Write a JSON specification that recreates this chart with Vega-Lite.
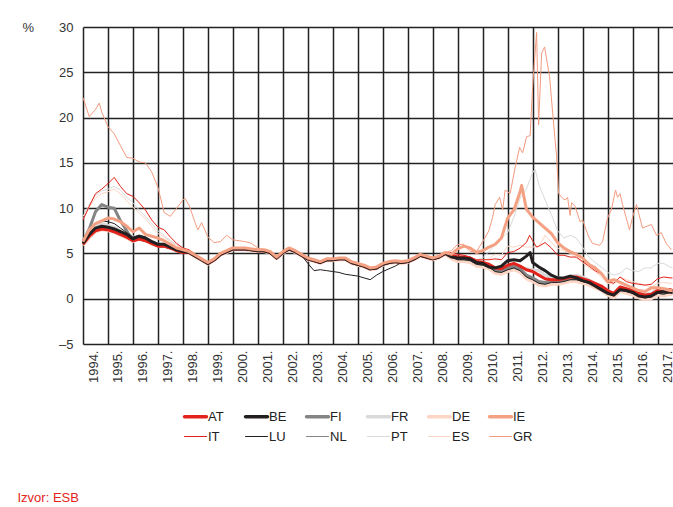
{
  "$schema": "https://vega.github.io/schema/vega-lite/v6.json",
  "width": 590,
  "height": 317,
  "autosize": {"type": "none"},
  "padding": {"left": 83, "top": 27, "right": 0, "bottom": 163},
  "background": "white",
  "config": {"view": {"stroke": null}, "font": "'Liberation Sans Narrow', 'Liberation Sans', sans-serif"},
  "data": {"values": [
    {"t":1994.0,"AT":6.0,"BE":6.1,"FI":6.3,"FR":6.2,"DE":5.9,"IE":6.3,"IT":8.7,"LU":6.2,"NL":5.9,"PT":9.1,"ES":8.8,"GR":22.2},
    {"t":1994.25,"AT":6.9,"BE":7.1,"FI":7.7,"FR":7.3,"DE":6.7,"IE":7.6,"IT":10.2,"LU":7.5,"NL":6.8,"PT":10.4,"ES":10.1,"GR":20.1},
    {"t":1994.5,"AT":7.5,"BE":7.8,"FI":9.6,"FR":8.0,"DE":7.4,"IE":8.3,"IT":11.6,"LU":8.3,"NL":7.5,"PT":11.4,"ES":11.1,"GR":20.9},
    {"t":1994.75,"AT":7.7,"BE":8.0,"FI":10.4,"FR":8.3,"DE":7.6,"IE":8.6,"IT":12.1,"LU":8.6,"NL":7.7,"PT":11.9,"ES":11.6,"GR":20.6},
    {"t":1995.0,"AT":7.6,"BE":7.9,"FI":10.1,"FR":8.1,"DE":7.5,"IE":8.9,"IT":12.7,"LU":8.5,"NL":7.6,"PT":12.1,"ES":11.8,"GR":19.0},
    {"t":1995.25,"AT":7.4,"BE":7.7,"FI":10.0,"FR":7.9,"DE":7.3,"IE":8.8,"IT":13.4,"LU":8.3,"NL":7.3,"PT":12.4,"ES":12.1,"GR":18.2},
    {"t":1995.5,"AT":7.1,"BE":7.4,"FI":8.6,"FR":7.5,"DE":7.0,"IE":8.5,"IT":12.4,"LU":7.8,"NL":7.0,"PT":12.0,"ES":11.6,"GR":16.9},
    {"t":1995.75,"AT":6.8,"BE":7.1,"FI":7.5,"FR":7.2,"DE":6.7,"IE":8.0,"IT":11.6,"LU":7.3,"NL":6.7,"PT":11.2,"ES":10.8,"GR":15.6},
    {"t":1996.0,"AT":6.4,"BE":6.6,"FI":6.4,"FR":6.8,"DE":6.3,"IE":7.4,"IT":11.3,"LU":6.8,"NL":6.3,"PT":10.6,"ES":10.1,"GR":15.5},
    {"t":1996.25,"AT":6.6,"BE":6.9,"FI":6.7,"FR":6.9,"DE":6.6,"IE":7.8,"IT":10.6,"LU":7.0,"NL":6.5,"PT":9.8,"ES":9.5,"GR":15.1},
    {"t":1996.5,"AT":6.4,"BE":6.7,"FI":6.5,"FR":6.7,"DE":6.4,"IE":7.1,"IT":9.8,"LU":6.8,"NL":6.3,"PT":9.1,"ES":8.8,"GR":15.0},
    {"t":1996.75,"AT":6.1,"BE":6.3,"FI":6.3,"FR":6.3,"DE":6.0,"IE":6.9,"IT":8.7,"LU":6.3,"NL":6.0,"PT":8.3,"ES":8.0,"GR":14.0},
    {"t":1997.0,"AT":5.8,"BE":6.0,"FI":6.0,"FR":6.0,"DE":5.8,"IE":6.7,"IT":7.9,"LU":6.0,"NL":5.7,"PT":7.5,"ES":7.2,"GR":12.3},
    {"t":1997.25,"AT":5.8,"BE":6.0,"FI":5.8,"FR":6.0,"DE":5.8,"IE":6.4,"IT":7.6,"LU":6.0,"NL":5.7,"PT":7.0,"ES":6.8,"GR":9.5},
    {"t":1997.5,"AT":5.6,"BE":5.7,"FI":5.6,"FR":5.8,"DE":5.6,"IE":6.0,"IT":6.8,"LU":5.7,"NL":5.5,"PT":6.4,"ES":6.3,"GR":9.1},
    {"t":1997.75,"AT":5.3,"BE":5.4,"FI":5.5,"FR":5.5,"DE":5.3,"IE":5.6,"IT":6.1,"LU":5.4,"NL":5.2,"PT":6.0,"ES":5.9,"GR":10.0},
    {"t":1998.0,"AT":5.1,"BE":5.2,"FI":5.3,"FR":5.2,"DE":5.1,"IE":5.4,"IT":5.6,"LU":5.2,"NL":5.0,"PT":5.6,"ES":5.5,"GR":10.9},
    {"t":1998.25,"AT":5.1,"BE":5.1,"FI":5.1,"FR":5.1,"DE":5.0,"IE":5.2,"IT":5.4,"LU":5.1,"NL":5.0,"PT":5.1,"ES":5.1,"GR":10.3},
    {"t":1998.5,"AT":4.7,"BE":4.7,"FI":4.7,"FR":4.7,"DE":4.6,"IE":4.8,"IT":4.9,"LU":4.7,"NL":4.6,"PT":4.7,"ES":4.7,"GR":8.3},
    {"t":1998.75,"AT":4.3,"BE":4.3,"FI":4.3,"FR":4.3,"DE":4.2,"IE":4.4,"IT":4.4,"LU":4.3,"NL":4.2,"PT":4.3,"ES":4.3,"GR":8.4},
    {"t":1999.0,"AT":3.9,"BE":3.9,"FI":3.9,"FR":3.9,"DE":3.8,"IE":4.0,"IT":4.0,"LU":3.9,"NL":3.8,"PT":3.9,"ES":3.9,"GR":6.8},
    {"t":1999.25,"AT":4.3,"BE":4.3,"FI":4.3,"FR":4.3,"DE":4.2,"IE":4.4,"IT":4.4,"LU":4.3,"NL":4.2,"PT":4.3,"ES":4.3,"GR":6.2},
    {"t":1999.5,"AT":4.9,"BE":4.9,"FI":4.9,"FR":4.9,"DE":4.8,"IE":5.0,"IT":5.0,"LU":4.9,"NL":4.8,"PT":4.9,"ES":4.9,"GR":6.3},
    {"t":1999.75,"AT":5.2,"BE":5.2,"FI":5.2,"FR":5.2,"DE":5.1,"IE":5.3,"IT":5.3,"LU":5.2,"NL":5.1,"PT":5.2,"ES":5.2,"GR":7.0},
    {"t":2000.0,"AT":5.5,"BE":5.5,"FI":5.5,"FR":5.5,"DE":5.4,"IE":5.6,"IT":5.6,"LU":5.5,"NL":5.4,"PT":5.5,"ES":5.5,"GR":6.5},
    {"t":2000.25,"AT":5.5,"BE":5.5,"FI":5.5,"FR":5.5,"DE":5.4,"IE":5.6,"IT":5.6,"LU":5.5,"NL":5.4,"PT":5.5,"ES":5.5,"GR":6.4},
    {"t":2000.5,"AT":5.5,"BE":5.5,"FI":5.5,"FR":5.5,"DE":5.4,"IE":5.6,"IT":5.6,"LU":5.5,"NL":5.4,"PT":5.5,"ES":5.5,"GR":6.3},
    {"t":2000.75,"AT":5.4,"BE":5.4,"FI":5.4,"FR":5.4,"DE":5.3,"IE":5.5,"IT":5.5,"LU":5.4,"NL":5.3,"PT":5.4,"ES":5.4,"GR":6.1},
    {"t":2001.0,"AT":5.3,"BE":5.3,"FI":5.3,"FR":5.3,"DE":5.2,"IE":5.4,"IT":5.4,"LU":5.3,"NL":5.2,"PT":5.3,"ES":5.3,"GR":5.6},
    {"t":2001.25,"AT":5.3,"BE":5.3,"FI":5.3,"FR":5.3,"DE":5.2,"IE":5.4,"IT":5.3,"LU":5.3,"NL":5.2,"PT":5.3,"ES":5.3,"GR":5.4},
    {"t":2001.5,"AT":5.1,"BE":5.1,"FI":5.1,"FR":5.1,"DE":5.0,"IE":5.2,"IT":5.1,"LU":5.1,"NL":5.0,"PT":5.1,"ES":5.1,"GR":5.2},
    {"t":2001.75,"AT":4.5,"BE":4.5,"FI":4.5,"FR":4.5,"DE":4.4,"IE":4.6,"IT":4.5,"LU":4.5,"NL":4.4,"PT":4.5,"ES":4.5,"GR":4.6},
    {"t":2002.0,"AT":5.1,"BE":5.1,"FI":5.1,"FR":5.1,"DE":5.0,"IE":5.2,"IT":5.1,"LU":5.1,"NL":5.0,"PT":5.1,"ES":5.1,"GR":5.2},
    {"t":2002.25,"AT":5.5,"BE":5.5,"FI":5.5,"FR":5.5,"DE":5.4,"IE":5.6,"IT":5.5,"LU":5.5,"NL":5.4,"PT":5.5,"ES":5.5,"GR":5.6},
    {"t":2002.5,"AT":5.2,"BE":5.2,"FI":5.2,"FR":5.2,"DE":5.1,"IE":5.3,"IT":5.2,"LU":5.2,"NL":5.1,"PT":5.2,"ES":5.2,"GR":5.3},
    {"t":2002.75,"AT":4.8,"BE":4.8,"FI":4.8,"FR":4.8,"DE":4.7,"IE":4.9,"IT":4.8,"LU":4.8,"NL":4.7,"PT":4.8,"ES":4.8,"GR":4.9},
    {"t":2003.0,"AT":4.4,"BE":4.4,"FI":4.4,"FR":4.4,"DE":4.3,"IE":4.5,"IT":4.4,"LU":3.9,"NL":4.3,"PT":4.4,"ES":4.4,"GR":4.5},
    {"t":2003.25,"AT":4.2,"BE":4.2,"FI":4.2,"FR":4.2,"DE":4.1,"IE":4.3,"IT":4.2,"LU":3.1,"NL":4.1,"PT":4.2,"ES":4.2,"GR":4.3},
    {"t":2003.5,"AT":4.0,"BE":4.0,"FI":4.0,"FR":4.0,"DE":3.9,"IE":4.1,"IT":4.0,"LU":3.2,"NL":3.9,"PT":4.0,"ES":4.0,"GR":4.1},
    {"t":2003.75,"AT":4.3,"BE":4.3,"FI":4.3,"FR":4.3,"DE":4.2,"IE":4.4,"IT":4.3,"LU":3.1,"NL":4.2,"PT":4.3,"ES":4.3,"GR":4.4},
    {"t":2004.0,"AT":4.3,"BE":4.3,"FI":4.3,"FR":4.3,"DE":4.2,"IE":4.4,"IT":4.3,"LU":3.0,"NL":4.2,"PT":4.3,"ES":4.3,"GR":4.4},
    {"t":2004.25,"AT":4.4,"BE":4.4,"FI":4.4,"FR":4.4,"DE":4.3,"IE":4.5,"IT":4.4,"LU":2.9,"NL":4.3,"PT":4.4,"ES":4.4,"GR":4.5},
    {"t":2004.5,"AT":4.4,"BE":4.4,"FI":4.4,"FR":4.4,"DE":4.3,"IE":4.5,"IT":4.4,"LU":2.7,"NL":4.3,"PT":4.4,"ES":4.4,"GR":4.5},
    {"t":2004.75,"AT":4.0,"BE":4.0,"FI":4.0,"FR":4.0,"DE":3.9,"IE":4.1,"IT":4.0,"LU":2.6,"NL":3.9,"PT":4.0,"ES":4.0,"GR":4.1},
    {"t":2005.0,"AT":3.8,"BE":3.8,"FI":3.8,"FR":3.8,"DE":3.7,"IE":3.9,"IT":3.8,"LU":2.5,"NL":3.7,"PT":3.8,"ES":3.8,"GR":3.9},
    {"t":2005.25,"AT":3.6,"BE":3.6,"FI":3.6,"FR":3.6,"DE":3.5,"IE":3.7,"IT":3.6,"LU":2.3,"NL":3.5,"PT":3.6,"ES":3.6,"GR":3.7},
    {"t":2005.5,"AT":3.3,"BE":3.3,"FI":3.3,"FR":3.3,"DE":3.2,"IE":3.4,"IT":3.3,"LU":2.1,"NL":3.2,"PT":3.3,"ES":3.3,"GR":3.4},
    {"t":2005.75,"AT":3.4,"BE":3.4,"FI":3.4,"FR":3.4,"DE":3.3,"IE":3.5,"IT":3.4,"LU":2.6,"NL":3.3,"PT":3.4,"ES":3.4,"GR":3.5},
    {"t":2006.0,"AT":3.8,"BE":3.8,"FI":3.8,"FR":3.8,"DE":3.7,"IE":3.9,"IT":3.8,"LU":3.0,"NL":3.7,"PT":3.8,"ES":3.8,"GR":3.9},
    {"t":2006.25,"AT":4.0,"BE":4.0,"FI":4.0,"FR":4.0,"DE":3.9,"IE":4.1,"IT":4.0,"LU":3.3,"NL":3.9,"PT":4.0,"ES":4.0,"GR":4.1},
    {"t":2006.5,"AT":4.1,"BE":4.1,"FI":4.1,"FR":4.1,"DE":4.0,"IE":4.2,"IT":4.1,"LU":3.6,"NL":4.0,"PT":4.1,"ES":4.1,"GR":4.2},
    {"t":2006.75,"AT":4.0,"BE":4.0,"FI":4.0,"FR":4.0,"DE":3.9,"IE":4.1,"IT":4.0,"LU":4.0,"NL":3.9,"PT":4.0,"ES":4.0,"GR":4.1},
    {"t":2007.0,"AT":4.1,"BE":4.1,"FI":4.1,"FR":4.1,"DE":4.0,"IE":4.2,"IT":4.1,"LU":4.1,"NL":4.0,"PT":4.1,"ES":4.1,"GR":4.2},
    {"t":2007.25,"AT":4.4,"BE":4.4,"FI":4.4,"FR":4.4,"DE":4.3,"IE":4.5,"IT":4.4,"LU":4.4,"NL":4.3,"PT":4.4,"ES":4.4,"GR":4.5},
    {"t":2007.5,"AT":4.8,"BE":4.8,"FI":4.8,"FR":4.8,"DE":4.7,"IE":4.9,"IT":4.8,"LU":4.8,"NL":4.7,"PT":4.8,"ES":4.8,"GR":4.9},
    {"t":2007.75,"AT":4.6,"BE":4.6,"FI":4.6,"FR":4.6,"DE":4.5,"IE":4.7,"IT":4.6,"LU":4.6,"NL":4.5,"PT":4.6,"ES":4.6,"GR":4.7},
    {"t":2008.0,"AT":4.4,"BE":4.4,"FI":4.4,"FR":4.4,"DE":4.3,"IE":4.5,"IT":4.4,"LU":4.4,"NL":4.3,"PT":4.4,"ES":4.4,"GR":4.5},
    {"t":2008.25,"AT":4.6,"BE":4.6,"FI":4.6,"FR":4.6,"DE":4.5,"IE":4.7,"IT":4.6,"LU":4.6,"NL":4.5,"PT":4.6,"ES":4.6,"GR":4.7},
    {"t":2008.5,"AT":5.0,"BE":5.0,"FI":5.0,"FR":5.0,"DE":4.9,"IE":5.1,"IT":5.0,"LU":5.0,"NL":4.9,"PT":5.0,"ES":5.0,"GR":5.1},
    {"t":2008.75,"AT":4.8,"BE":4.6,"FI":4.7,"FR":4.7,"DE":4.4,"IE":4.9,"IT":5.1,"LU":4.6,"NL":4.6,"PT":4.8,"ES":4.7},
    {"t":2009.0,"AT":4.6,"BE":4.5,"FI":4.5,"FR":4.5,"DE":4.1,"IE":5.5,"IT":4.9,"LU":4.3,"NL":4.3,"PT":4.6,"ES":4.4},
    {"t":2009.25,"AT":4.6,"BE":4.5,"FI":4.5,"FR":4.4,"DE":4.1,"IE":5.8,"IT":4.8,"LU":4.3,"NL":4.3,"PT":4.7,"ES":4.5},
    {"t":2009.5,"AT":4.5,"BE":4.4,"FI":4.4,"FR":4.3,"DE":4.0,"IE":5.6,"IT":4.6,"LU":4.2,"NL":4.2,"PT":4.4,"ES":4.3},
    {"t":2009.75,"AT":4.1,"BE":4.0,"FI":4.0,"FR":3.9,"DE":3.6,"IE":5.1,"IT":4.3,"LU":3.8,"NL":3.8,"PT":4.3,"ES":4.1},
    {"t":2010.0,"AT":4.0,"BE":3.9,"FI":3.9,"FR":3.8,"DE":3.5,"IE":5.3,"IT":4.3,"LU":3.7,"NL":3.7,"PT":4.5,"ES":4.3},
    {"t":2010.25,"AT":3.8,"BE":3.5,"FI":3.7,"FR":3.6,"DE":3.3,"IE":5.7,"IT":4.3,"LU":3.5,"NL":3.5,"PT":5.2,"ES":4.4},
    {"t":2010.5,"AT":3.4,"BE":3.4,"FI":3.2,"FR":3.2,"DE":2.8,"IE":6.0,"IT":4.4,"LU":3.0,"NL":3.0,"PT":6.0,"ES":4.9},
    {"t":2010.75,"AT":3.3,"BE":3.6,"FI":3.1,"FR":3.0,"DE":2.7,"IE":6.7,"IT":4.3,"LU":2.9,"NL":2.9,"PT":6.6,"ES":4.8},
    {"t":2011.0,"AT":3.7,"BE":4.2,"FI":3.4,"FR":3.5,"DE":3.0,"IE":8.9,"IT":5.1,"LU":3.2,"NL":3.2,"PT":7.3,"ES":5.8},
    {"t":2011.25,"AT":3.9,"BE":4.3,"FI":3.6,"FR":3.8,"DE":3.2,"IE":9.8,"IT":5.2,"LU":3.4,"NL":3.4,"PT":9.0,"ES":5.7},
    {"t":2011.5,"AT":3.6,"BE":4.2,"FI":3.3,"FR":3.5,"DE":2.9,"IE":11.8,"IT":5.6,"LU":3.1,"NL":3.1,"PT":11.1,"ES":5.9},
    {"t":2011.75,"AT":3.2,"BE":4.7,"FI":2.6,"FR":3.3,"DE":2.2,"IE":9.9,"IT":6.2,"LU":2.4,"NL":2.4,"PT":12.1,"ES":5.7},
    {"t":2012.0,"AT":3.0,"BE":4.0,"FI":2.3,"FR":3.2,"DE":1.9,"IE":9.0,"IT":6.4,"LU":2.1,"NL":2.1,"PT":13.9,"ES":5.7},
    {"t":2012.25,"AT":2.6,"BE":3.5,"FI":1.9,"FR":3.1,"DE":1.5,"IE":8.4,"IT":5.8,"LU":1.7,"NL":1.7,"PT":12.6,"ES":5.8},
    {"t":2012.5,"AT":2.2,"BE":3.1,"FI":1.8,"FR":2.6,"DE":1.4,"IE":7.8,"IT":6.2,"LU":1.6,"NL":1.6,"PT":10.9,"ES":7.0},
    {"t":2012.75,"AT":2.1,"BE":2.6,"FI":2.0,"FR":2.3,"DE":1.6,"IE":7.2,"IT":5.6,"LU":1.8,"NL":1.8,"PT":9.3,"ES":6.2},
    {"t":2013.0,"AT":2.1,"BE":2.3,"FI":2.0,"FR":2.3,"DE":1.6,"IE":6.2,"IT":4.8,"LU":1.8,"NL":1.8,"PT":7.5,"ES":5.6},
    {"t":2013.25,"AT":2.2,"BE":2.3,"FI":2.1,"FR":2.2,"DE":1.7,"IE":5.6,"IT":4.8,"LU":1.9,"NL":1.9,"PT":6.7,"ES":5.3},
    {"t":2013.5,"AT":2.4,"BE":2.5,"FI":2.3,"FR":2.5,"DE":1.9,"IE":5.2,"IT":4.6,"LU":2.1,"NL":2.1,"PT":7.0,"ES":5.0},
    {"t":2013.75,"AT":2.4,"BE":2.3,"FI":2.3,"FR":2.6,"DE":1.9,"IE":4.9,"IT":4.6,"LU":2.1,"NL":2.1,"PT":6.7,"ES":4.5},
    {"t":2014.0,"AT":2.2,"BE":2.0,"FI":2.1,"FR":2.4,"DE":1.7,"IE":4.5,"IT":4.1,"LU":1.9,"NL":1.9,"PT":5.7,"ES":4.0},
    {"t":2014.25,"AT":2.0,"BE":1.8,"FI":1.9,"FR":2.1,"DE":1.5,"IE":3.8,"IT":3.6,"LU":1.7,"NL":1.7,"PT":4.6,"ES":3.4},
    {"t":2014.5,"AT":1.7,"BE":1.4,"FI":1.6,"FR":1.7,"DE":1.2,"IE":3.4,"IT":3.1,"LU":1.4,"NL":1.4,"PT":4.0,"ES":3.0},
    {"t":2014.75,"AT":1.4,"BE":1.0,"FI":1.3,"FR":1.4,"DE":0.9,"IE":2.8,"IT":2.7,"LU":1.1,"NL":1.1,"PT":3.5,"ES":2.4},
    {"t":2015.0,"AT":0.9,"BE":0.6,"FI":0.8,"FR":0.9,"DE":0.4,"IE":1.9,"IT":1.9,"LU":0.6,"NL":0.6,"PT":2.9,"ES":1.7},
    {"t":2015.25,"AT":0.6,"BE":0.4,"FI":0.5,"FR":0.6,"DE":0.1,"IE":2.1,"IT":1.7,"LU":0.3,"NL":0.3,"PT":2.6,"ES":1.6},
    {"t":2015.5,"AT":1.3,"BE":1.0,"FI":1.2,"FR":1.3,"DE":0.8,"IE":1.8,"IT":2.4,"LU":1.0,"NL":1.0,"PT":2.8,"ES":2.4},
    {"t":2015.75,"AT":1.1,"BE":0.9,"FI":1.0,"FR":1.1,"DE":0.6,"IE":1.5,"IT":1.9,"LU":0.8,"NL":0.8,"PT":3.4,"ES":2.1},
    {"t":2016.0,"AT":0.9,"BE":0.7,"FI":0.8,"FR":1.0,"DE":0.4,"IE":1.2,"IT":1.7,"LU":0.6,"NL":0.6,"PT":3.1,"ES":1.9},
    {"t":2016.25,"AT":0.6,"BE":0.3,"FI":0.5,"FR":0.6,"DE":0.1,"IE":0.9,"IT":1.6,"LU":0.3,"NL":0.3,"PT":3.0,"ES":1.7},
    {"t":2016.5,"AT":0.4,"BE":0.2,"FI":0.3,"FR":0.5,"DE":-0.1,"IE":0.8,"IT":1.5,"LU":0.1,"NL":0.1,"PT":3.4,"ES":1.5},
    {"t":2016.75,"AT":0.5,"BE":0.3,"FI":0.4,"FR":0.6,"DE":0.0,"IE":1.2,"IT":1.6,"LU":0.2,"NL":0.2,"PT":3.4,"ES":1.3},
    {"t":2017.0,"AT":0.9,"BE":0.7,"FI":0.8,"FR":1.1,"DE":0.4,"IE":1.2,"IT":2.2,"LU":0.6,"NL":0.6,"PT":3.9,"ES":1.7},
    {"t":2017.25,"AT":0.8,"BE":0.8,"FI":0.7,"FR":1.1,"DE":0.3,"IE":1.1,"IT":2.4,"LU":0.5,"NL":0.5,"PT":3.9,"ES":1.8},
    {"t":2017.5,"AT":1.0,"BE":0.7,"FI":0.9,"FR":1.0,"DE":0.5,"IE":0.9,"IT":2.3,"LU":0.7,"NL":0.7,"PT":3.5,"ES":1.7},
    {"t":2017.6,"AT":0.9,"BE":0.7,"FI":0.8,"FR":1.0,"DE":0.4,"IE":0.9,"IT":2.3,"LU":0.6,"NL":0.6,"PT":3.4,"ES":1.7},
    {"t":1994.65,"GR":21.6},
    {"t":1998.08,"GR":11.1},
    {"t":1998.6,"GR":7.6},
    {"t":2011.56,"IE":12.5},
    {"t":2011.88,"IT":7.0},
    {"t":2012.16,"IT":5.7},
    {"t":2011.9,"BE":5.1},
    {"t":2012.1,"PT":14.3},
    {"t":2008.75,"GR":5.3},
    {"t":2009.0,"GR":6.0},
    {"t":2009.25,"GR":6.0},
    {"t":2009.5,"GR":5.2},
    {"t":2009.75,"GR":5.2},
    {"t":2010.0,"GR":6.3},
    {"t":2010.25,"GR":7.5},
    {"t":2010.4,"GR":9.0},
    {"t":2010.5,"GR":10.4},
    {"t":2010.68,"GR":11.2},
    {"t":2010.8,"GR":9.8},
    {"t":2010.9,"GR":12.0},
    {"t":2011.1,"GR":11.6},
    {"t":2011.3,"GR":14.5},
    {"t":2011.48,"GR":16.7},
    {"t":2011.6,"GR":16.1},
    {"t":2011.76,"GR":17.9},
    {"t":2011.9,"GR":18.0},
    {"t":2012.0,"GR":23.4},
    {"t":2012.16,"GR":29.4},
    {"t":2012.24,"GR":19.2},
    {"t":2012.36,"GR":27.1},
    {"t":2012.48,"GR":27.8},
    {"t":2012.68,"GR":24.5},
    {"t":2012.8,"GR":20.6},
    {"t":2012.9,"GR":17.5},
    {"t":2012.96,"GR":15.7},
    {"t":2013.04,"GR":11.6},
    {"t":2013.2,"GR":11.1},
    {"t":2013.3,"GR":10.9},
    {"t":2013.4,"GR":11.2},
    {"t":2013.5,"GR":9.2},
    {"t":2013.56,"GR":10.6},
    {"t":2013.7,"GR":10.2},
    {"t":2013.9,"GR":8.5},
    {"t":2014.0,"GR":8.7},
    {"t":2014.25,"GR":6.8},
    {"t":2014.4,"GR":6.1},
    {"t":2014.68,"GR":5.9},
    {"t":2014.8,"GR":6.3},
    {"t":2015.0,"GR":8.9},
    {"t":2015.15,"GR":9.8},
    {"t":2015.32,"GR":12.0},
    {"t":2015.4,"GR":11.2},
    {"t":2015.5,"GR":11.6},
    {"t":2015.6,"GR":10.4},
    {"t":2015.8,"GR":8.4},
    {"t":2015.88,"GR":7.6},
    {"t":2016.0,"GR":9.0},
    {"t":2016.16,"GR":10.4},
    {"t":2016.24,"GR":9.5},
    {"t":2016.4,"GR":7.8},
    {"t":2016.75,"GR":8.2},
    {"t":2016.96,"GR":7.0},
    {"t":2017.15,"GR":7.3},
    {"t":2017.35,"GR":6.1},
    {"t":2017.56,"GR":5.4}
  ]},
  "transform": [
    {"fold": ["DE","FR","ES","PT","NL","FI","LU","AT","IT","BE","GR","IE"], "as": ["c","v"]},
    {"filter": "isValid(datum.v)"}
  ],
  "mark": {"type": "line", "strokeJoin": "round"},
  "encoding": {
    "x": {
      "field": "t", "type": "quantitative",
      "scale": {"domain": [1994, 2017.62], "nice": false, "zero": false},
      "axis": {
        "values": [1994,1995,1996,1997,1998,1999,2000,2001,2002,2003,2004,2005,2006,2007,2008,2009,2010,2011,2012,2013,2014,2015,2016,2017],
        "grid": true, "gridColor": "#222222", "gridWidth": 1.5,
        "domain": false, "ticks": false,
        "labelAngle": -90, "labelOffset": 10, "labelPadding": 6,
        "labelExpr": "datum.value + '.'",
        "labelFontSize": 13, "labelColor": "#333333",
        "labelFlush": false, "labelOverlap": false, "labelBound": false,
        "title": "Izvor: ESB", "titleColor": "#e3231b", "titleFontSize": 13, "titleFontWeight": "normal",
        "titleX": -66, "titleY": 153, "titleAlign": "left", "titleBaseline": "middle", "titleAngle": 0
      }
    },
    "y": {
      "field": "v", "type": "quantitative",
      "scale": {"domain": [-5, 30], "nice": false, "zero": false},
      "axis": {
        "values": [-5,0,5,10,15,20,25,30],
        "grid": true, "gridColor": "#222222", "gridWidth": 1.5,
        "domain": false, "ticks": false,
        "labelPadding": 10, "labelFontSize": 13, "labelColor": "#333333",
        "labelExpr": "datum.value < 0 ? '–' + abs(datum.value) : datum.value",
        "title": "%", "titleAngle": 0, "titleX": -61, "titleY": 0,
        "titleAlign": "left", "titleBaseline": "middle",
        "titleFontWeight": "normal", "titleFontSize": 13, "titleColor": "#333333"
      }
    },
    "color": {
      "field": "c", "type": "nominal",
      "scale": {
        "domain": ["AT","BE","FI","FR","DE","IE","IT","LU","NL","PT","ES","GR"],
        "range": ["#e3231b","#231f20","#848484","#d9d9d9","#fcd5c4","#f4a083","#e3231b","#231f20","#848484","#d9d9d9","#fcd5c4","#f39b7f"]
      },
      "legend": {
        "title": null, "orient": "none", "legendX": 106, "legendY": 383,
        "direction": "horizontal",
        "columns": 6, "gridAlign": "all", "columnPadding": 10, "rowPadding": 6,
        "symbolType": "stroke", "symbolSize": 480, "symbolStrokeWidth": 3,
        "labelFontSize": 13, "labelColor": "#222222", "labelOffset": 6,
        "padding": 0,
        "encode": {"symbols": {"update": {
          "strokeWidth": {"signal": "indexof(['AT','BE','FI','FR','DE','IE'], datum.value) >= 0 ? 3.5 : 1.2"},
          "strokeCap": {"value": "round"}
        }}}
      }
    },
    "strokeWidth": {
      "condition": {"test": "indexof(['AT','BE','FI','FR','DE','IE'], datum.c) >= 0", "value": 3},
      "value": 1
    }
  }
}
